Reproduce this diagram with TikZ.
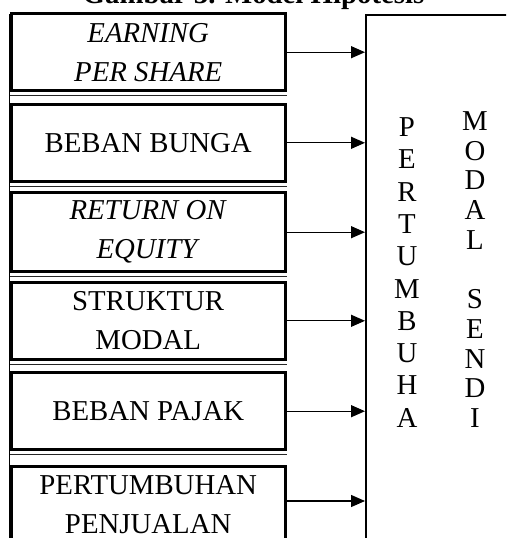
\documentclass[tikz,border=0pt]{standalone}
\usepackage{fontspec}
\setmainfont{Liberation Serif}
\usetikzlibrary{arrows.meta}
\begin{document}
\begin{tikzpicture}[x=1pt,y=-1pt,
  every node/.style={font=\fontsize{28.8}{39}\selectfont},
  varbox/.style={draw, line width=3pt, rectangle, minimum width=273.7pt,
    minimum height=77pt, inner sep=0pt, align=center},
  target/.style={draw, line width=1.5pt, minimum width=300pt,
    minimum height=600pt, anchor=north west, inner sep=0pt},
  link/.style={line width=1.3pt, -{Triangle[length=14pt,width=12pt]}},
  ruleline/.style={line width=1pt, black!85},
  edge line/.style={line width=1.5pt},
  letters/.style={align=center, inner sep=0pt,
    font=\fontsize{28.8}{32.3}\selectfont},
  letters2/.style={align=center, inner sep=0pt,
    font=\fontsize{28.8}{29.7}\selectfont}]
\useasboundingbox (0,0) rectangle (506,538);
\clip (0,0) rectangle (506,538);

% caption
\node[font=\bfseries\fontsize{28.8}{34}\selectfont, anchor=base] (title)
  at (253.5,3) {Gambar 3. Model Hipotesis};

% dependent variable frame
\node[target] (big) at (365,14) {};
\node[letters] (pert) at (407,272.5)
  {P\\E\\R\\T\\U\\M\\B\\U\\H\\A};
\node[letters2] (modal) at (475,269.5)
  {M\\O\\D\\A\\L\\\mbox{}\\S\\E\\N\\D\\I};

% left rule joining the variable boxes
\coordinate (ltop) at (9.5,14);
\coordinate (lbot) at (9.5,540);
\draw[edge line] (ltop) -- (lbot);

% independent variables
\node[varbox] (b1) at (148.2,52.2) {\textit{EARNING}\\\textit{PER SHARE}};
\node[varbox] (b2) at (148.2,142.8) {BEBAN BUNGA};
\node[varbox, minimum height=78.5pt] (b3) at (148.2,232.2) {\textit{RETURN ON}\\\textit{EQUITY}};
\node[varbox] (b4) at (148.2,320.8) {STRUKTUR\\MODAL};
\node[varbox] (b5) at (148.2,411.2) {BEBAN PAJAK};
\node[varbox] (b6) at (148.2,505) {PERTUMBUHAN\\PENJUALAN};

% thin rules under each box
\foreach \b in {b1,b2,b3,b4,b5}{
  \draw[ruleline] ([yshift=-3.5pt]\b.south west) -- ([yshift=-3.5pt]\b.south east);
}

% arrows into the frame
\foreach \b in {b1,b2,b3,b4,b5}{
  \draw[link] (\b.east) -- (\b.east -| big.west);
}
\draw[link] ([yshift=4pt]b6.east) -- ([yshift=4pt]b6.east -| big.west);
\end{tikzpicture}
\end{document}
